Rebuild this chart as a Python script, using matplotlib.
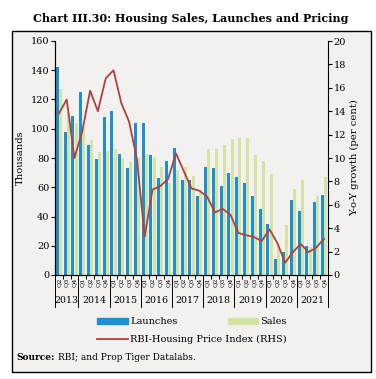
import matplotlib
matplotlib.use("Agg")
import matplotlib.pyplot as plt
import numpy as np
from matplotlib.patches import Rectangle
from matplotlib.lines import Line2D
from matplotlib.transforms import blended_transform_factory

quarters = ["Q2", "Q3", "Q4"] + ["Q1", "Q2", "Q3", "Q4"] * 8
years = ["2013", "2014", "2015", "2016", "2017", "2018", "2019", "2020", "2021"]
year_counts = [3, 4, 4, 4, 4, 4, 4, 4, 4]

launches = [142, 98, 109, 125, 89, 79, 108, 112, 83, 73, 104, 104, 82, 66, 78,
            87, 65, 65, 54, 74, 73, 61, 70, 67, 63, 54, 45, 35, 11, 16, 51, 44,
            20, 50, 55]
sales = [127, 111, 104, 101, 92, 84, 85, 86, 80, 77, 80, 83, 81, 74, 63,
         72, 74, 68, 58, 86, 86, 89, 93, 94, 94, 82, 78, 69, 20, 34, 59, 65,
         19, 54, 67]
hpi = [13.8, 15.0, 10.0, 12.3, 15.75, 14.0, 16.8, 17.5, 14.7, 13.1, 9.9, 3.3,
       7.3, 7.6, 8.2, 10.4, 8.9, 7.4, 7.2, 6.7, 5.35, 5.65, 5.15, 3.6, 3.4,
       3.25, 2.9, 3.9, 2.75, 1.05, 1.95, 2.65, 1.95, 2.35, 3.1]

W, H = 376, 379
fig = plt.figure(figsize=(W / 100, H / 100), dpi=100, facecolor="white")
SERIF = ["DejaVu Serif"]
plt.rcParams["font.family"] = SERIF

bg = "#F3F0F0"
def fx(px): return px / W
def fy(py): return 1 - py / H

# frame
frame = Rectangle((fx(12), fy(372)), fx(371) - fx(12), fy(31) - fy(372),
                  transform=fig.transFigure, facecolor=bg, edgecolor="black",
                  linewidth=1.0, zorder=-10)
fig.patches.append(frame)

fig.text(fx(33), fy(18), "Chart III.30: Housing Sales, Launches and Pricing",
         fontsize=8.0, fontweight="bold", va="center", ha="left")

ax = fig.add_axes([fx(55), fy(275), fx(328) - fx(55), fy(41) - fy(275)])
ax.set_facecolor(bg)
n = len(launches)
x = np.arange(n)
bw = 0.38
ax.bar(x - 0.2, launches, width=bw, color="#1E8FD2", zorder=2)
ax.bar(x + 0.2, sales, width=bw, color="#D5E3A2", zorder=2)
ax.set_xlim(-0.5, n - 0.5)
ax.set_ylim(0, 160)
ax.set_yticks(np.arange(0, 161, 20))
ax.tick_params(axis="y", labelsize=7, length=3, width=0.8, pad=1)
ax.spines["top"].set_visible(False)
ax.spines["right"].set_visible(False)
ax.set_ylabel("Thousands", fontsize=7.2, labelpad=4)

ax.set_xticks([])
ax.set_xticks(np.arange(-0.5, n, 1), minor=True)
ax.tick_params(axis="x", which="minor", length=3, width=0.7)
ax.tick_params(axis="x", which="major", length=0)

ax2 = ax.twinx()
ax2.plot(x, hpi, color="#B0413E", linewidth=1.3, zorder=3)
ax2.set_ylim(0, 20)
ax2.set_yticks(np.arange(0, 21, 2))
ax2.tick_params(axis="y", labelsize=7, length=3, width=0.8, pad=1)
ax2.spines["top"].set_visible(False)
ax2.set_ylabel("Y-o-Y growth (per cent)", fontsize=7.2, labelpad=3)

tr = blended_transform_factory(ax.transData, ax.transAxes)
for i, q in enumerate(quarters):
    ax.text(i, -0.013, q, transform=tr, rotation=90, fontsize=4.6,
            ha="center", va="top", clip_on=False)
b = -0.5
for yr, c in zip(years, year_counts):
    ax.add_line(Line2D([b, b], [0, -0.137], transform=tr, color="black",
                       linewidth=0.7, clip_on=False))
    ax.text(b + c / 2, -0.107, yr, transform=tr, fontsize=6.8, ha="center",
            va="center", clip_on=False)
    b += c
ax.add_line(Line2D([b, b], [0, -0.137], transform=tr, color="black",
                   linewidth=0.7, clip_on=False))

# legend
fig.patches.append(Rectangle((fx(97), fy(324)), fx(128) - fx(97), fy(318) - fy(324),
                             transform=fig.transFigure, color="#1E8FD2"))
fig.text(fx(130), fy(321), "Launches", fontsize=7, va="center")
fig.patches.append(Rectangle((fx(228), fy(324)), fx(258) - fx(228), fy(318) - fy(324),
                             transform=fig.transFigure, color="#D5E3A2"))
fig.text(fx(260), fy(321), "Sales", fontsize=7, va="center")
fig.lines.append(Line2D([fx(97), fx(128)], [fy(339), fy(339)],
                        transform=fig.transFigure, color="#B0413E", linewidth=1.3))
fig.text(fx(130), fy(339), "RBI-Housing Price Index (RHS)", fontsize=7, va="center")

t1 = fig.text(fx(16), fy(357), "Source:", fontsize=6.5, fontweight="bold", va="center")
fig.canvas.draw()
bb = t1.get_window_extent()
fig.text((bb.x1 + 3) / W, fy(357), "RBI; and Prop Tiger Datalabs.", fontsize=6.5,
         va="center")

fig.savefig("out.png", dpi=100, facecolor="white")
